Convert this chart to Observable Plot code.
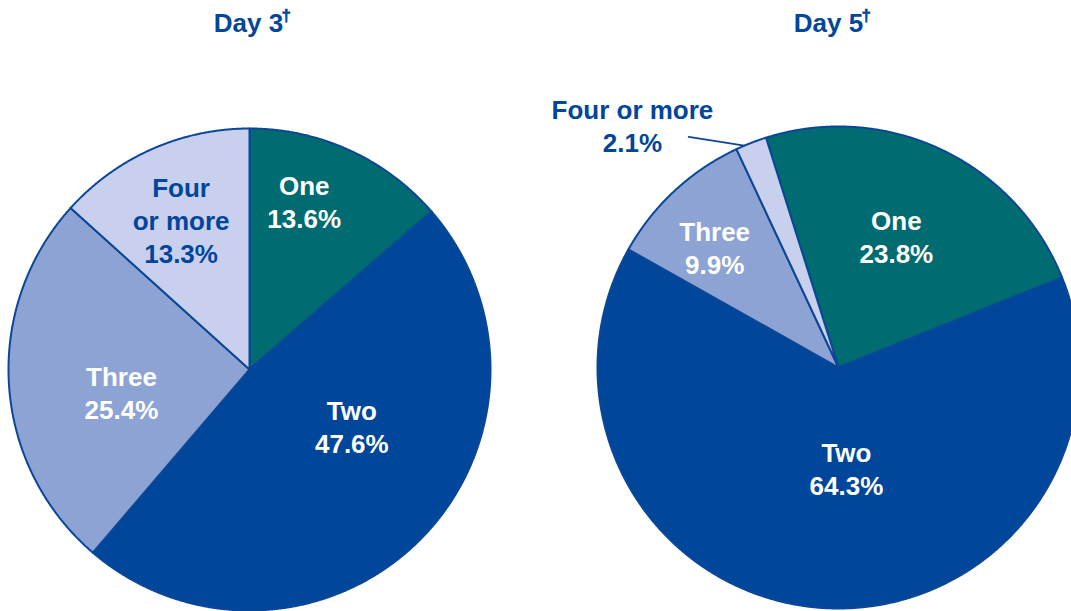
<!DOCTYPE html>
<html><head><meta charset="utf-8">
<script src="https://cdn.jsdelivr.net/npm/d3@7"></script>
<script src="https://cdn.jsdelivr.net/npm/@observablehq/plot@0.6"></script>
<style>body{margin:0;background:#fff;overflow:hidden}</style>
</head><body><div id="chart"></div>
<script>
// ---- data ----
const categories = ["One", "Two", "Three", "Four or more"];
const day3Values = [13.6, 47.6, 25.4, 13.3];
const day5Values = [23.8, 64.3, 9.9, 2.1];
const pieTitles = ["Day 3", "Day 5"];
const titleNote = "†";
const day3LabelNames = ["One", "Two", "Three", "Four\nor more"];
const day5LabelNames = ["One", "Two", "Three", "Four or more"];

// ---- layout / style ----
const W = 1071, H = 611;
const colors = ["#006b70", "#00469b", "#8da3d4", "#c9d0ee"];
const strokeColor = "#0b4797";
const font = "Liberation Sans, Arial, Helvetica, sans-serif";
const pies = [
  {title: pieTitles[0], titleDx: -1, values: day3Values, names: day3LabelNames, cx: 249, cy: 369, r: 241, start: 0,
   labelPos: [[18, 177], [119, 117], [260, 130], [335.5, 165]], inside: [true, true, true, false], leader: null},
  {title: pieTitles[1], titleDx: -10, values: day5Values, names: day5LabelNames, cx: 838, cy: 367, r: 241, start: -17.5,
   labelPos: [[23.7, 144], [175.5, 101], [314.3, 173], [319.6, 318]], inside: [true, true, true, false],
   leader: [[327, 275], [337, 241]]}
];
const rad = Math.PI / 180;
const polar = (p, aDeg, r) => [p.cx + r * Math.sin(aDeg * rad), p.cy - r * Math.cos(aDeg * rad)];

// slices built from the values via d3.pie
const slicePts = [];
const labels = [];
const leaders = [];
pies.forEach((p, pi) => {
  const arcs = d3.pie().sort(null).value(d => d)
    .startAngle(p.start * rad).endAngle(p.start * rad + 2 * Math.PI)(p.values);
  arcs.forEach((a, i) => {
    const key = pi + "-" + i;
    const cat = categories[i];
    slicePts.push({key, cat, x: p.cx, y: p.cy});
    const n = Math.max(2, Math.ceil((a.endAngle - a.startAngle) / rad * 4));
    for (let k = 0; k <= n; k++) {
      const ang = (a.startAngle + (a.endAngle - a.startAngle) * k / n) / rad;
      const [x, y] = polar(p, ang, p.r);
      slicePts.push({key, cat, x, y});
    }
    slicePts.push({key, cat, x: p.cx, y: p.cy});
    const [lx, ly] = polar(p, p.labelPos[i][0], p.labelPos[i][1]);
    labels.push({x: lx, y: ly, text: p.names[i] + "\n" + p.values[i].toFixed(1) + "%", inside: p.inside[i]});
  });
  if (p.leader) {
    p.leader.forEach(([a, r]) => { const [x, y] = polar(p, a, r); leaders.push({x, y}); });
  }
});
const titles = pies.map(p => ({x: p.cx + p.titleDx, y: 23, text: p.title}));

const chart = Plot.plot({
  width: W, height: H,
  margin: 0,
  x: {domain: [0, W], range: [0, W], axis: null},
  y: {domain: [0, H], range: [0, H], axis: null},
  color: {domain: categories, range: colors},
  style: {fontFamily: font, background: "#fff"},
  marks: [
    Plot.line(slicePts, {x: "x", y: "y", z: "key", fill: "cat", stroke: strokeColor, strokeWidth: 2,
      strokeLinejoin: "round", curve: "linear"}),
    Plot.line(leaders, {x: "x", y: "y", stroke: strokeColor, strokeWidth: 1.8}),
    Plot.text(labels.filter(d => d.inside), {x: "x", y: "y", text: "text", fill: "white",
      fontSize: 26, fontWeight: "bold", lineHeight: 1.27, textAnchor: "middle"}),
    Plot.text(labels.filter(d => !d.inside), {x: "x", y: "y", text: "text", fill: colors[1],
      fontSize: 26, fontWeight: "bold", lineHeight: 1.27, textAnchor: "middle"}),
    Plot.text(titles, {x: "x", y: "y", text: "text", fill: colors[1], fontSize: 26, fontWeight: "bold"}),
    Plot.text(titles, {x: "x", y: "y", dx: 33, dy: -8, text: () => titleNote, fill: colors[1], fontSize: 17,
      fontWeight: "bold", stroke: colors[1], strokeWidth: 0.6, textAnchor: "start"})
  ]
});
document.getElementById("chart").appendChild(chart);
</script>
</body></html>
